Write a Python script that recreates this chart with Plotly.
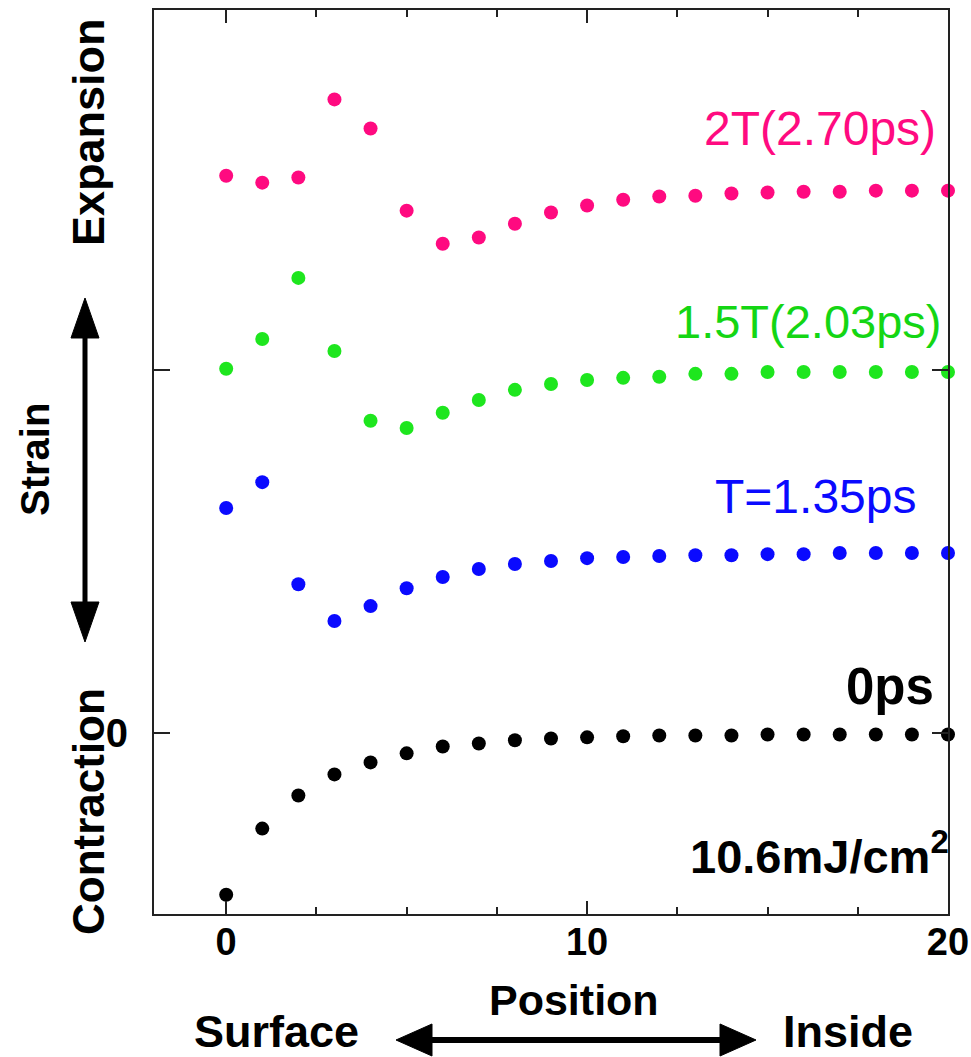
import plotly.graph_objects as go

# ---------------- data ----------------
positions = list(range(21))
strain_0ps = [-0.444, -0.262, -0.171, -0.113, -0.080, -0.055, -0.036, -0.028, -0.019, -0.014,
              -0.011, -0.008, -0.006, -0.006, -0.006, -0.003, -0.003, -0.003, -0.003, -0.003, -0.003]
strain_T = [0.620, 0.691, 0.410, 0.309, 0.350, 0.399, 0.430, 0.452, 0.466, 0.474,
            0.482, 0.485, 0.488, 0.490, 0.490, 0.493, 0.493, 0.496, 0.496, 0.496, 0.496]
strain_15T = [1.003, 1.085, 1.253, 1.052, 0.860, 0.840, 0.882, 0.917, 0.945, 0.961,
              0.972, 0.978, 0.981, 0.989, 0.989, 0.994, 0.994, 0.994, 0.994, 0.994, 0.994]
strain_2T = [1.534, 1.515, 1.529, 1.744, 1.664, 1.438, 1.347, 1.364, 1.402, 1.433,
             1.452, 1.468, 1.477, 1.479, 1.485, 1.488, 1.490, 1.490, 1.493, 1.493, 1.493]

series_names = ["0ps", "T=1.35ps", "1.5T(2.03ps)", "2T(2.70ps)"]
series_values = [strain_0ps, strain_T, strain_15T, strain_2T]
series_colors = ["#000000", "#0a0aff", "#1ee61e", "#ff0a80"]

x_tickvals = [0, 10, 20]
x_ticktext = ["0", "10", "20"]
x_minor = [2.5, 5, 7.5, 12.5, 15, 17.5]
y_tickvals = [0]
y_ticktext = ["0"]
y_minor = [1]

# ---------------- layout geometry ----------------
W, H = 971, 1057
L, R, T, B = 154, 948, 10, 914

def pxx(p):
    return (p - L) / (R - L)

def pxy(p):
    return (B - p) / (B - T)

FONT = "Liberation Sans, Arial, Helvetica, sans-serif"

fig = go.Figure()
for name, vals, col in zip(series_names, series_values, series_colors):
    fig.add_trace(go.Scatter(
        x=positions, y=vals, mode="markers", name=name,
        marker=dict(size=14, color=col, line=dict(width=0)),
        cliponaxis=False,
    ))

axis_line = dict(showline=True, linewidth=2, linecolor="#222222", mirror="ticks",
                 showgrid=False, zeroline=False, ticks="inside", tickcolor="#222222",
                 tickwidth=2, automargin=False)

fig.update_xaxes(range=[-2, 20], tickmode="array", tickvals=x_tickvals, ticktext=x_ticktext,
                 ticklen=13, ticklabelstandoff=-7,
                 tickfont=dict(family=FONT, size=38, color="black", weight="bold"),
                 minor=dict(tickmode="array", tickvals=x_minor, ticks="inside", ticklen=7,
                            tickcolor="#222222", tickwidth=2, showgrid=False),
                 **axis_line)
fig.update_yaxes(range=[-0.497, 1.99], tickmode="array", tickvals=y_tickvals, ticktext=y_ticktext,
                 ticklen=16, ticklabelstandoff=16,
                 tickfont=dict(family=FONT, size=40, color="black", weight="bold"),
                 minor=dict(tickmode="array", tickvals=y_minor, ticks="inside", ticklen=16,
                            tickcolor="#222222", tickwidth=2, showgrid=False),
                 **axis_line)

annotations = []
# in-plot labels (data coordinates)
annotations.append(dict(x=19.72, y=1.663, xref="x", yref="y", text="2T(2.70ps)", showarrow=False,
                        xanchor="right", yanchor="middle",
                        font=dict(family=FONT, size=48, color="#ff0a80")))
annotations.append(dict(x=19.86, y=1.132, xref="x", yref="y", text="1.5T(2.03ps)", showarrow=False,
                        xanchor="right", yanchor="middle",
                        font=dict(family=FONT, size=47, color="#14d614")))
annotations.append(dict(x=19.17, y=0.651, xref="x", yref="y", text="T=1.35ps", showarrow=False,
                        xanchor="right", yanchor="middle",
                        font=dict(family=FONT, size=48, color="#0a0aff")))
annotations.append(dict(x=19.66, y=0.129, xref="x", yref="y", text="<b>0ps</b>", showarrow=False,
                        xanchor="right", yanchor="middle",
                        font=dict(family=FONT, size=51, color="black")))
annotations.append(dict(x=20.0, y=-0.33, xref="x", yref="y", xshift=3,
                        text="<b>10.6mJ/cm<sup>2</sup></b>",
                        showarrow=False, xanchor="right", yanchor="middle",
                        font=dict(family=FONT, size=47, color="black")))

# outside labels (paper coordinates)
def plabel(text, x, y, size, angle=0):
    return dict(x=pxx(x), y=pxy(y), xref="paper", yref="paper", text="<b>" + text + "</b>",
                showarrow=False, xanchor="center", yanchor="middle", textangle=angle,
                font=dict(family=FONT, size=size, color="black"))

annotations += [
    plabel("Expansion", 88, 132, 45, -90),
    plabel("Strain", 35, 460, 40, -90),
    plabel("Contraction", 88, 812, 44, -90),
    plabel("Position", 574, 1000, 43),
    plabel("Surface", 276, 1031, 45),
    plabel("Inside", 848, 1031, 45),
]

shapes = []
def seg(x0, y0, x1, y1, w):
    return dict(type="line", xref="paper", yref="paper", x0=pxx(x0), y0=pxy(y0),
                x1=pxx(x1), y1=pxy(y1), line=dict(color="black", width=w), layer="above")

def tri(pts):
    path = "M " + " L ".join(f"{pxx(a):.5f},{pxy(b):.5f}" for a, b in pts) + " Z"
    return dict(type="path", xref="paper", yref="paper", path=path, fillcolor="black",
                line=dict(color="black", width=1), layer="above")

# vertical double arrow (Strain)
shapes.append(seg(85, 330, 85, 610, 5))
shapes.append(tri([(85, 298), (71, 338), (99, 338)]))
shapes.append(tri([(85, 642), (71, 602), (99, 602)]))
# horizontal double arrow (Position)
shapes.append(seg(425, 1040, 725, 1040, 6))
shapes.append(tri([(396, 1040), (432, 1024), (432, 1056)]))
shapes.append(tri([(756, 1040), (720, 1024), (720, 1056)]))

fig.update_layout(
    width=W, height=H,
    margin=dict(l=L, r=W - R, t=T, b=H - B, pad=0, autoexpand=False),
    plot_bgcolor="white", paper_bgcolor="white",
    showlegend=False,
    annotations=annotations,
    shapes=shapes,
    font=dict(family=FONT, color="black"),
)

fig.write_html("out.html",
               config={"displayModeBar": False},
               post_script="document.body.style.margin='0';document.body.style.overflow='hidden';")
